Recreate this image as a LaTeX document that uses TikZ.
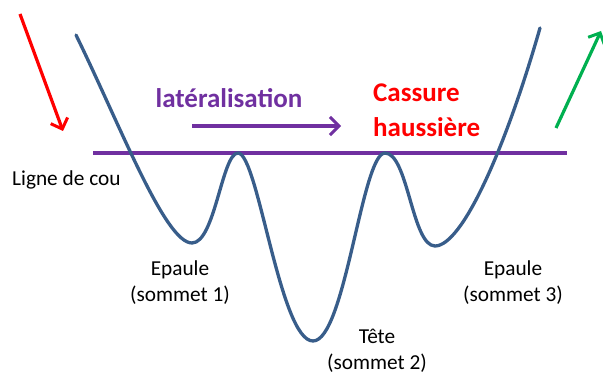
\documentclass[tikz,border=0pt]{standalone}
\usepackage{fontspec}
\setmainfont{Carlito}
\usetikzlibrary{arrows.meta}
\definecolor{curveblue}{HTML}{385D8A}
\definecolor{neckpurple}{HTML}{7030A0}
\definecolor{upgreen}{HTML}{00B050}
\tikzset{
  lbl/.style={font=\fontsize{21.3}{26}\selectfont, align=center, inner sep=0pt},
  big/.style={font=\fontsize{27}{34}\selectfont\bfseries, inner sep=0pt},
  arr/.style={line width=3.2pt, -{Straight Barb[length=9pt,width=18pt,line width=3pt]}},
}
\begin{document}
\begin{tikzpicture}[x=1pt,y=-1pt]
\useasboundingbox (0,0) rectangle (603,374);
% neckline
\coordinate (nl) at (93,153);
\coordinate (nr) at (567,153);
\draw[neckpurple, line width=4pt] (nl) -- (nr);
% curve
\coordinate (c0) at (76,35);
\coordinate (m1) at (192,243);
\coordinate (p1) at (238,153);
\coordinate (m2) at (313,341);
\coordinate (p2) at (385,153);
\coordinate (m3) at (435,246);
\coordinate (c1) at (540,28);
\draw[curveblue, line width=3.3pt, line join=round, line cap=round]
  (c0) .. controls (120,125) and (165,243) .. (m1)
  .. controls (215,243) and (222,153) .. (p1)
  .. controls (258,153) and (280,341) .. (m2)
  .. controls (345,341) and (362,153) .. (p2)
  .. controls (408,153) and (412,246) .. (m3)
  .. controls (462,246) and (505,150) .. (c1);
% red and green arrows
\coordinate (ra) at (20,14);
\coordinate (rb) at (63,131);
\draw[red, arr] (ra) -- (rb);
\coordinate (ga) at (556,128);
\coordinate (gb) at (601,31);
\draw[upgreen, arr] (ga) -- (gb);
% lateralisation arrow
\coordinate (la) at (192,126);
\coordinate (lb) at (341,126);
\draw[neckpurple, arr] (la) -- (lb);
% texts
\node[big, text=neckpurple] (lat) at (229,98) {latéralisation};
\node[big, text=red, anchor=west] (cas) at (373,93) {Cassure};
\node[big, text=red, anchor=west] (hau) at (373,127) {haussière};
\node[lbl, anchor=west] (cou) at (12,180) {Ligne de cou};
\node[lbl] (e1) at (180,283) {Epaule\\(sommet 1)};
\node[lbl] (t) at (377,351) {Tête\\(sommet 2)};
\node[lbl] (e3) at (513,283) {Epaule\\(sommet 3)};
\end{tikzpicture}
\end{document}
